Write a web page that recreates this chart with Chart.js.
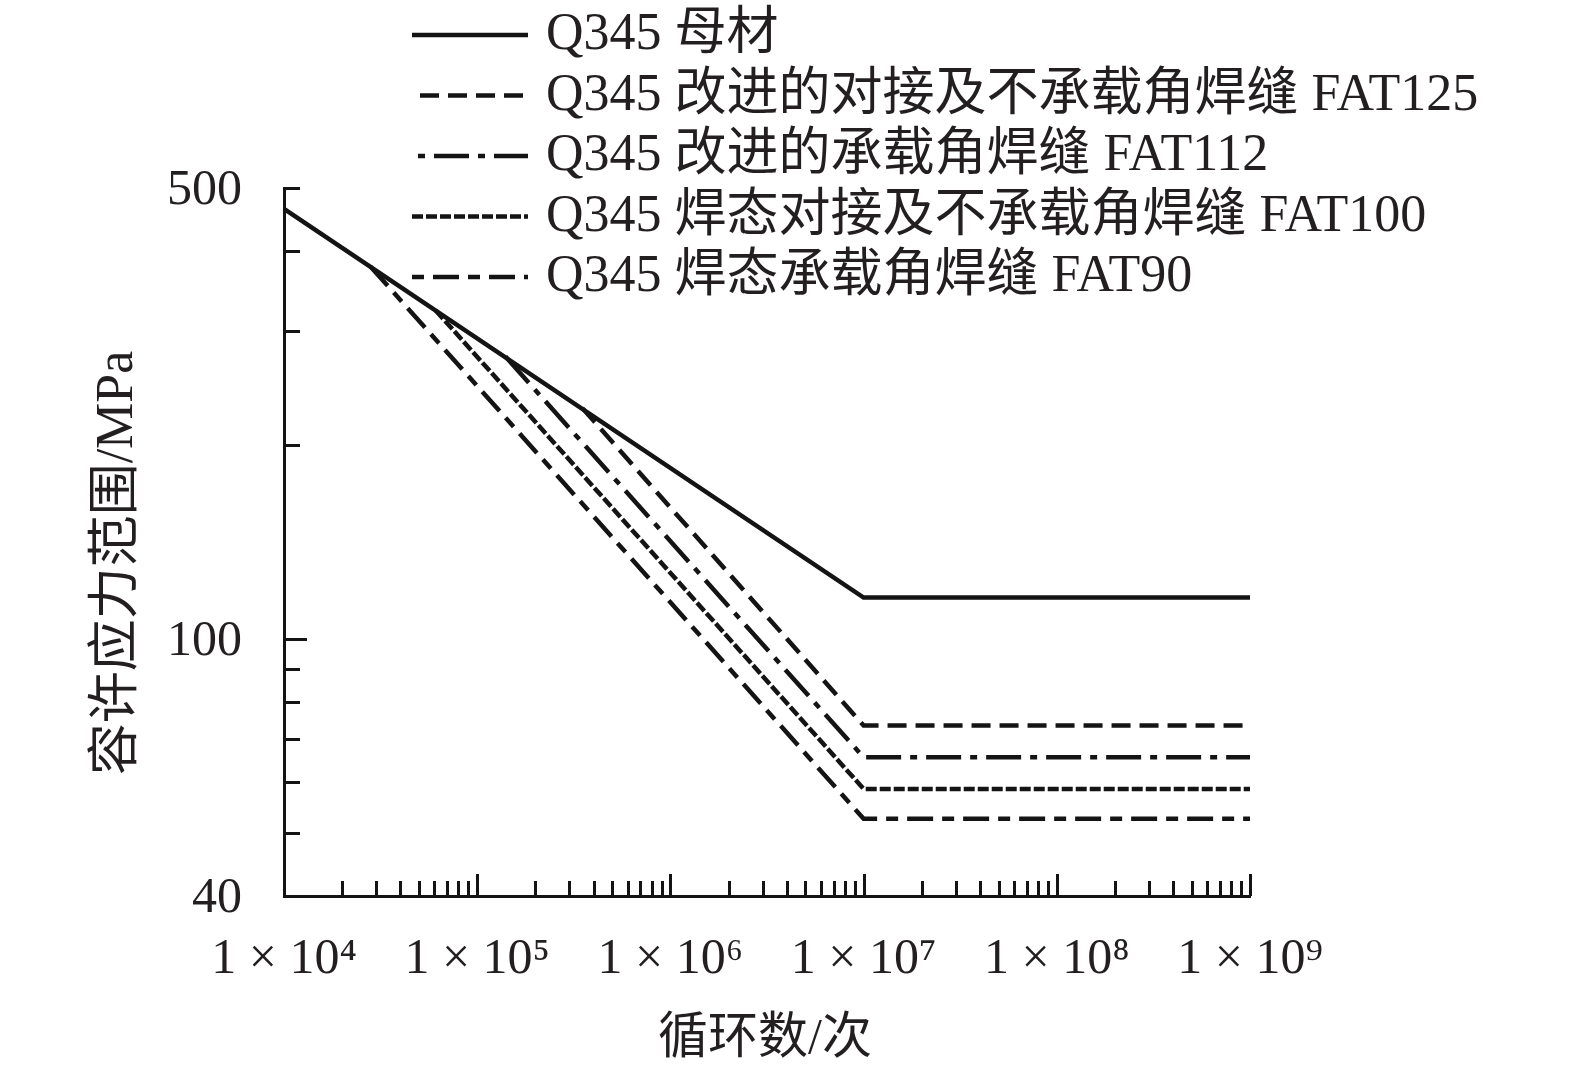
<!DOCTYPE html>
<html><head><meta charset="utf-8">
<script src="https://cdn.jsdelivr.net/npm/chart.js@4.4.1/dist/chart.umd.min.js"></script>
<style>html,body{margin:0;padding:0;background:#fff;}</style>
</head><body>
<canvas id="c" width="1575" height="1073" style="display:block;width:1575px;height:1073px"></canvas>
<script>
// ---------- data ----------
const seriesLabels = [
  'Q345 母材',
  'Q345 改进的对接及不承载角焊缝 FAT125',
  'Q345 改进的承载角焊缝 FAT112',
  'Q345 焊态对接及不承载角焊缝 FAT100',
  'Q345 焊态承载角焊缝 FAT90'
];
const baseCycles   = [1e4, 1e7, 1e9];
const baseStress   = [464, 116, 116];
const fat125Cycles = [3.5e5, 1e7, 1e9];
const fat125Stress = [228, 73.5, 73.5];
const fat112Cycles = [1.4e5, 1e7, 1e9];
const fat112Stress = [274, 65.6, 65.6];
const fat100Cycles = [6.1e4, 1e7, 1e9];
const fat100Stress = [323, 58.6, 58.6];
const fat90Cycles  = [2.8e4, 1e7, 1e9];
const fat90Stress  = [378, 52.7, 52.7];

const xMajorTicks = [1e4, 1e5, 1e6, 1e7, 1e8, 1e9];
const xMinorMultipliers = [2, 3, 4, 5, 6, 7, 8, 9];
const yTicks = [40, 50, 60, 70, 80, 90, 100, 200, 300, 400, 500];
const yLabelTicks = [40, 100, 500];
const xTitle = '循环数/次';
const yTitle = '容许应力范围/MPa';

// ---------- styles ----------
const INK = '#141414';
const TEXT = '#231f20';
const FONT = '"Liberation Serif", "Noto Sans CJK SC", serif';
const dashes = [[], [19, 9], [35, 9, 7, 9], [11, 3], [26, 9, 12, 9]];
const legendDashOffset = [0, 0, 44, 0, 35];
const legendStartX = [412, 420, 418, 412, 412];

const toPts = (xs, ys) => xs.map((v, i) => ({x: v, y: ys[i]}));
const seriesData = [
  toPts(baseCycles, baseStress),
  toPts(fat125Cycles, fat125Stress),
  toPts(fat112Cycles, fat112Stress),
  toPts(fat100Cycles, fat100Stress),
  toPts(fat90Cycles, fat90Stress)
];
const sup = {'4':'⁴','5':'⁵','6':'⁶','7':'⁷','8':'⁸','9':'⁹'};

const inTicks = {
  id: 'inTicks',
  afterDraw(chart) {
    const {ctx, scales: {x, y}, chartArea} = chart;
    ctx.save();
    ctx.strokeStyle = INK; ctx.lineWidth = 3; ctx.lineCap = 'butt';
    const seg = (x1, y1, x2, y2) => { ctx.beginPath(); ctx.moveTo(x1, y1); ctx.lineTo(x2, y2); ctx.stroke(); };
    const b = chartArea.bottom, l = chartArea.left;
    xMajorTicks.forEach((v, i) => {
      const p = Math.round(x.getPixelForValue(v)) + 0.5;
      seg(p, b, p, b - 22);
      if (i < xMajorTicks.length - 1) {
        xMinorMultipliers.forEach(m => {
          const q = Math.round(x.getPixelForValue(v * m)) + 0.5;
          seg(q, b, q, b - 15);
        });
      }
    });
    yTicks.forEach(v => {
      const p = Math.round(y.getPixelForValue(v)) + 0.5;
      seg(l, p, l + (v === 100 ? 23 : 16), p);
    });
    ctx.restore();
  }
};

const legendAndTitles = {
  id: 'legendAndTitles',
  afterDraw(chart) {
    const {ctx} = chart;
    ctx.save();
    chart.data.datasets.forEach((ds, i) => {
      const ly = 35 + i * 60.5;
      ctx.strokeStyle = INK; ctx.lineWidth = 4.5; ctx.lineCap = 'butt';
      ctx.setLineDash(ds.borderDash || []);
      ctx.lineDashOffset = legendDashOffset[i];
      ctx.beginPath(); ctx.moveTo(legendStartX[i], ly); ctx.lineTo(528, ly); ctx.stroke();
      ctx.setLineDash([]);
      ctx.fillStyle = TEXT; ctx.font = '52px ' + FONT;
      ctx.textAlign = 'left'; ctx.textBaseline = 'alphabetic';
      ctx.fillText(ds.label, 546, ly + 14);
    });
    ctx.fillStyle = TEXT;
    ctx.textAlign = 'center'; ctx.textBaseline = 'middle';
    ctx.font = '50px ' + FONT;
    ctx.fillText(xTitle, 765, 1040);
    ctx.font = '52px ' + FONT;
    ctx.translate(118, 563); ctx.rotate(-Math.PI / 2);
    ctx.fillText(yTitle, 0, 0);
    ctx.restore();
  }
};

new Chart(document.getElementById('c'), {
  type: 'scatter',
  data: {
    datasets: seriesData.map((d, i) => ({
      label: seriesLabels[i],
      data: d,
      showLine: true,
      borderColor: INK,
      backgroundColor: INK,
      borderWidth: 4.5,
      borderDash: dashes[i],
      pointRadius: 0,
      pointHoverRadius: 0,
      tension: 0,
      clip: false
    }))
  },
  options: {
    responsive: false,
    animation: false,
    devicePixelRatio: 1,
    layout: {padding: {top: 188, right: 325, left: 0, bottom: 0}},
    plugins: {legend: {display: false}, tooltip: {enabled: false}},
    scales: {
      x: {
        type: 'logarithmic', min: 1e4, max: 1e9,
        grid: {display: false, drawTicks: false},
        border: {display: true, color: INK, width: 3},
        afterBuildTicks: s => { s.ticks = xMajorTicks.map(v => ({value: v})); },
        afterFit: s => { s.height = 177; },
        ticks: {
          autoSkip: false, maxRotation: 0, padding: 34, color: TEXT,
          font: {family: FONT, size: 50},
          callback: v => '1 × 10' + sup[String(Math.round(Math.log10(v)))]
        }
      },
      y: {
        type: 'logarithmic', min: 40, max: 500,
        grid: {display: false, drawTicks: false},
        border: {display: true, color: INK, width: 3},
        afterBuildTicks: s => { s.ticks = yTicks.map(v => ({value: v})); },
        afterFit: s => { s.width = 284; },
        ticks: {
          autoSkip: false, padding: 42, labelOffset: 3, color: TEXT,
          font: {family: FONT, size: 50},
          callback: v => yLabelTicks.includes(v) ? String(v) : ''
        }
      }
    }
  },
  plugins: [inTicks, legendAndTitles]
});
</script>
</body></html>
